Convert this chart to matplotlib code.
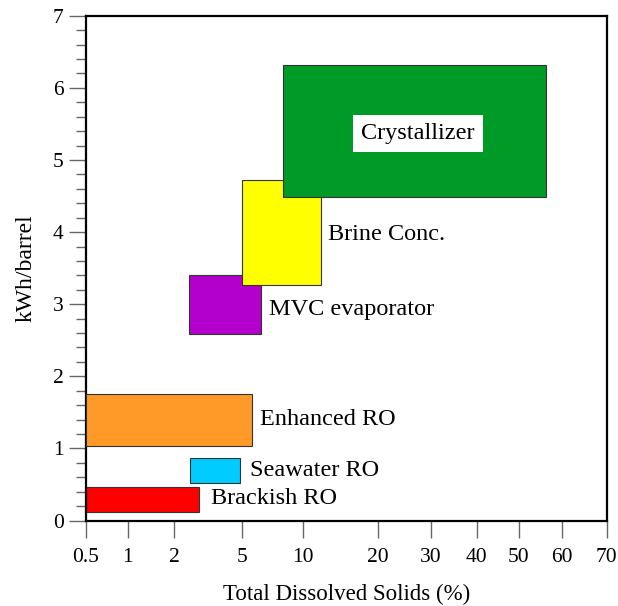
import numpy as np
import matplotlib.pyplot as plt
from matplotlib.ticker import FixedLocator, MultipleLocator

plt.rcParams['font.family'] = ['Liberation Serif', 'DejaVu Serif']

# process boxes: TDS range (%) and energy range (kWh/barrel)
names = ["Brackish RO", "Seawater RO", "Enhanced RO", "MVC evaporator", "Brine Conc.", "Crystallizer"]
tds_lo = [0.5, 2.7, 0.5, 2.65, 5.0, 8.4]
tds_hi = [3.1, 4.9, 5.8, 6.6, 12.4, 56.4]
kwh_lo = [0.12, 0.52, 1.04, 2.59, 3.27, 4.48]
kwh_hi = [0.47, 0.87, 1.75, 3.40, 4.72, 6.32]
colors = ["#ff0000", "#00ccff", "#ff9a28", "#b400cc", "#ffff00", "#009a26"]

# label anchors
label_x = [3.65, 5.7, 6.5, 7.2, 13.3, 27.5]
label_y = [0.31, 0.69, 1.40, 2.93, 3.97, 5.37]

# axis tick values and their relative spacing on the original drawing
x_ticks = [0.5, 1, 2, 5, 10, 20, 30, 40, 50, 60, 70]
x_tick_pos = [0, 42, 88, 156, 217, 292, 345, 391, 433, 476, 521]


def fwd(x):
    return np.interp(x, x_ticks, x_tick_pos)


def inv(p):
    return np.interp(p, x_tick_pos, x_ticks)


fig = plt.figure(figsize=(6.18, 6.06), dpi=100)
ax = fig.add_axes([0.139, 0.141, 0.843, 0.833])
ax.set_xscale('function', functions=(fwd, inv))
ax.set_xlim(0.5, 70)
ax.set_ylim(0, 7)

for i in range(len(names)):
    ax.barh((kwh_lo[i] + kwh_hi[i]) / 2, tds_hi[i] - tds_lo[i], left=tds_lo[i],
            height=kwh_hi[i] - kwh_lo[i], color=colors[i], edgecolor="#333333",
            linewidth=0.8, zorder=2 + i)

for i, name in enumerate(names):
    if name == "Crystallizer":
        ax.text(label_x[i], label_y[i], name, fontsize=17.5, ha='center', va='center', zorder=20,
                bbox=dict(facecolor='white', edgecolor='none', pad=6))
    else:
        ax.text(label_x[i], label_y[i], name, fontsize=17.5, ha='left', va='center', zorder=20)

ax.xaxis.set_major_locator(FixedLocator(x_ticks))
ax.set_xticklabels([f"{v:g}" for v in x_ticks])
ax.xaxis.set_minor_locator(FixedLocator([]))
ax.yaxis.set_major_locator(MultipleLocator(1))
ax.yaxis.set_minor_locator(MultipleLocator(0.2))

ax.tick_params(axis='both', which='major', direction='out', length=12, width=1,
               color='#666666', labelsize=15.5, pad=4)
ax.tick_params(axis='x', which='major', pad=8)
ax.tick_params(axis='y', which='minor', direction='out', length=7, width=1, color='#666666')

for s in ax.spines.values():
    s.set_linewidth(1.6)
    s.set_color('black')

ax.set_xlabel("Total Dissolved Solids (%)", fontsize=16.5, labelpad=12)
ax.set_ylabel("kWh/barrel", fontsize=17, labelpad=12)

fig.savefig("out.png", dpi=100)
